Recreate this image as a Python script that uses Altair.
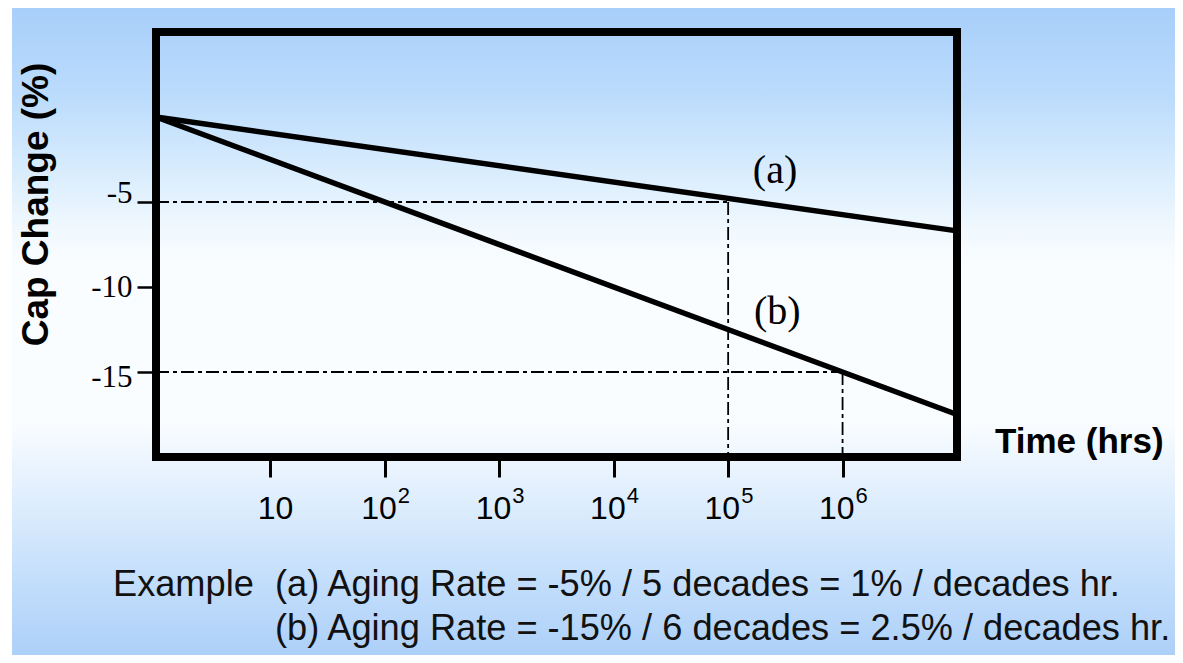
import altair as alt
import pandas as pd

# ---- data ----
times = [1, 1e7]
cap_a = [0, -6.7]
cap_b = [0, -17.5]

ref_times = [1e5, 1e6]
ref_caps = [-5, -15]

tick_values = [10, 100, 1000, 10000, 100000, 1000000]
tick_exponents = ["", "2", "3", "4", "5", "6"]

y_ticks = [-5, -10, -15]

series_labels = ["(a)", "(b)"]
label_times = [10 ** 5.41, 10 ** 5.43]
label_caps = [-3.9, -12.2]

example_head = "Example"
example_lines = [
    "(a) Aging Rate = -5% / 5 decades = 1% / decades hr.",
    "(b) Aging Rate = -15% / 6 decades = 2.5% / decades hr.",
]

# ---- layout ----
W, H = 801, 425
PAD = {"left": 148, "top": 24, "right": 218, "bottom": 198}
X_DOMAIN = [1, 1e7]
Y_DOMAIN = [-20, 5]
SANS = "Liberation Sans"
SERIF = "Liberation Serif"
EX_SIZE = 36.2

xs = alt.Scale(type="log", domain=X_DOMAIN, nice=False)
ys = alt.Scale(domain=Y_DOMAIN, nice=False, zero=False)

one = alt.Data(values=[{}])

# background gradient
bg = alt.Chart(one).mark_rect(
    color=alt.LinearGradient(
        gradient="linear", x1=0, x2=0, y1=0, y2=1,
        stops=[
            alt.GradientStop(offset=0.0, color="#a8cffa"),
            alt.GradientStop(offset=0.14, color="#bcdcfc"),
            alt.GradientStop(offset=0.25, color="#d8ecfd"),
            alt.GradientStop(offset=0.34, color="#f0f8fe"),
            alt.GradientStop(offset=0.40, color="#fafdff"),
            alt.GradientStop(offset=0.64, color="#fafdff"),
            alt.GradientStop(offset=0.69, color="#eef6fe"),
            alt.GradientStop(offset=0.80, color="#d6e9fc"),
            alt.GradientStop(offset=0.90, color="#c0dcfb"),
            alt.GradientStop(offset=1.0, color="#add0f8"),
        ],
    )
).encode(
    x=alt.value(-PAD["left"] + 4), x2=alt.value(W + PAD["right"]),
    y=alt.value(-PAD["top"]), y2=alt.value(H + PAD["bottom"]),
)

lines_df = pd.DataFrame({
    "time": times + times,
    "cap": cap_a + cap_b,
    "series": ["a"] * len(times) + ["b"] * len(times),
})

lines = alt.Chart(lines_df).mark_line(color="black", strokeWidth=5.5).encode(
    x=alt.X("time:Q", scale=xs, axis=alt.Axis(
        values=tick_values, labels=False, ticks=True, tickSize=20, tickWidth=3,
        tickColor="black", domain=False, grid=False, title="", zindex=1)),
    y=alt.Y("cap:Q", scale=ys, axis=alt.Axis(
        values=y_ticks, tickSize=19, tickWidth=2.5, tickColor="black",
        domain=False, grid=False, labelFont=SERIF, labelFontSize=31,
        labelColor="black", labelPadding=5, labelExpr="'' + datum.value",
        labelOffset={"condition": [
            {"test": "datum.value == -5", "value": -9},
            {"test": "datum.value == -15", "value": 5}], "value": 0},
        title="Cap Change (%)", titleFont=SANS, titleFontSize=37,
        titleFontWeight="bold", titleColor="black", titleX=-120, titleY=172,
        titleAngle=270, titleAlign="center", titleBaseline="middle", zindex=1)),
    detail="series:N",
)

ref_df = pd.DataFrame({"time": ref_times, "cap": ref_caps})
ref_df["start"] = X_DOMAIN[0]
ref_df["floor"] = Y_DOMAIN[0]
dash = [13, 4, 4, 4]
hrules = alt.Chart(ref_df).mark_rule(color="black", strokeWidth=1.8, strokeDash=dash).encode(
    x=alt.X("start:Q", scale=xs), x2="time:Q", y=alt.Y("cap:Q", scale=ys))
vrules = alt.Chart(ref_df).mark_rule(color="black", strokeWidth=1.8, strokeDash=dash).encode(
    x=alt.X("time:Q", scale=xs), y=alt.Y("cap:Q", scale=ys), y2="floor:Q")

box = alt.Chart(one).mark_rect(fill="transparent", stroke="black", strokeWidth=8).encode(
    x=alt.value(0), x2=alt.value(W), y=alt.value(0), y2=alt.value(H))

ticks_df = pd.DataFrame({"time": tick_values, "exp": tick_exponents})
base_plain = alt.Chart(ticks_df).transform_filter("datum.exp == ''").mark_text(
    text="10", font=SANS, fontSize=32, color="black", align="center", dx=5,
    baseline="alphabetic").encode(x=alt.X("time:Q", scale=xs), y=alt.value(487))
base_pow = alt.Chart(ticks_df).transform_filter("datum.exp != ''").mark_text(
    text="10", font=SANS, fontSize=32, color="black", align="right", dx=12,
    baseline="alphabetic").encode(x=alt.X("time:Q", scale=xs), y=alt.value(487))
exps = alt.Chart(ticks_df).transform_filter("datum.exp != ''").mark_text(
    font=SANS, fontSize=22, color="black", align="left", dx=13,
    baseline="alphabetic").encode(x=alt.X("time:Q", scale=xs), y=alt.value(471), text="exp:N")

lab_df = pd.DataFrame({"time": label_times, "cap": label_caps, "label": series_labels})
labels = alt.Chart(lab_df).mark_text(
    font=SERIF, fontSize=40, color="black", align="center", baseline="alphabetic").encode(
    x=alt.X("time:Q", scale=xs), y=alt.Y("cap:Q", scale=ys), text="label:N")

xtitle = alt.Chart(one).mark_text(
    text="Time (hrs)", font=SANS, fontSize=35, fontWeight="bold", color="black",
    align="left", baseline="alphabetic").encode(x=alt.value(839), y=alt.value(421))

ex_head = alt.Chart(one).mark_text(
    text=example_head, font=SANS, fontSize=EX_SIZE, color="#111",
    align="left", baseline="alphabetic").encode(x=alt.value(-43), y=alt.value(564))
ex1 = alt.Chart(one).mark_text(
    text=example_lines[0], font=SANS, fontSize=EX_SIZE, color="#111",
    align="left", baseline="alphabetic").encode(x=alt.value(119), y=alt.value(564))
ex2 = alt.Chart(one).mark_text(
    text=example_lines[1], font=SANS, fontSize=EX_SIZE, color="#111",
    align="left", baseline="alphabetic").encode(x=alt.value(119), y=alt.value(608))

chart = alt.layer(
    bg, hrules, vrules, lines, box, base_plain, base_pow, exps, labels,
    xtitle, ex_head, ex1, ex2,
).properties(
    width=W, height=H,
    autosize=alt.AutoSizeParams(type="none"),
    padding=PAD,
    background="white",
).configure_view(strokeWidth=0)

chart.save("out.html", embed_options={"renderer": "svg", "actions": False})
